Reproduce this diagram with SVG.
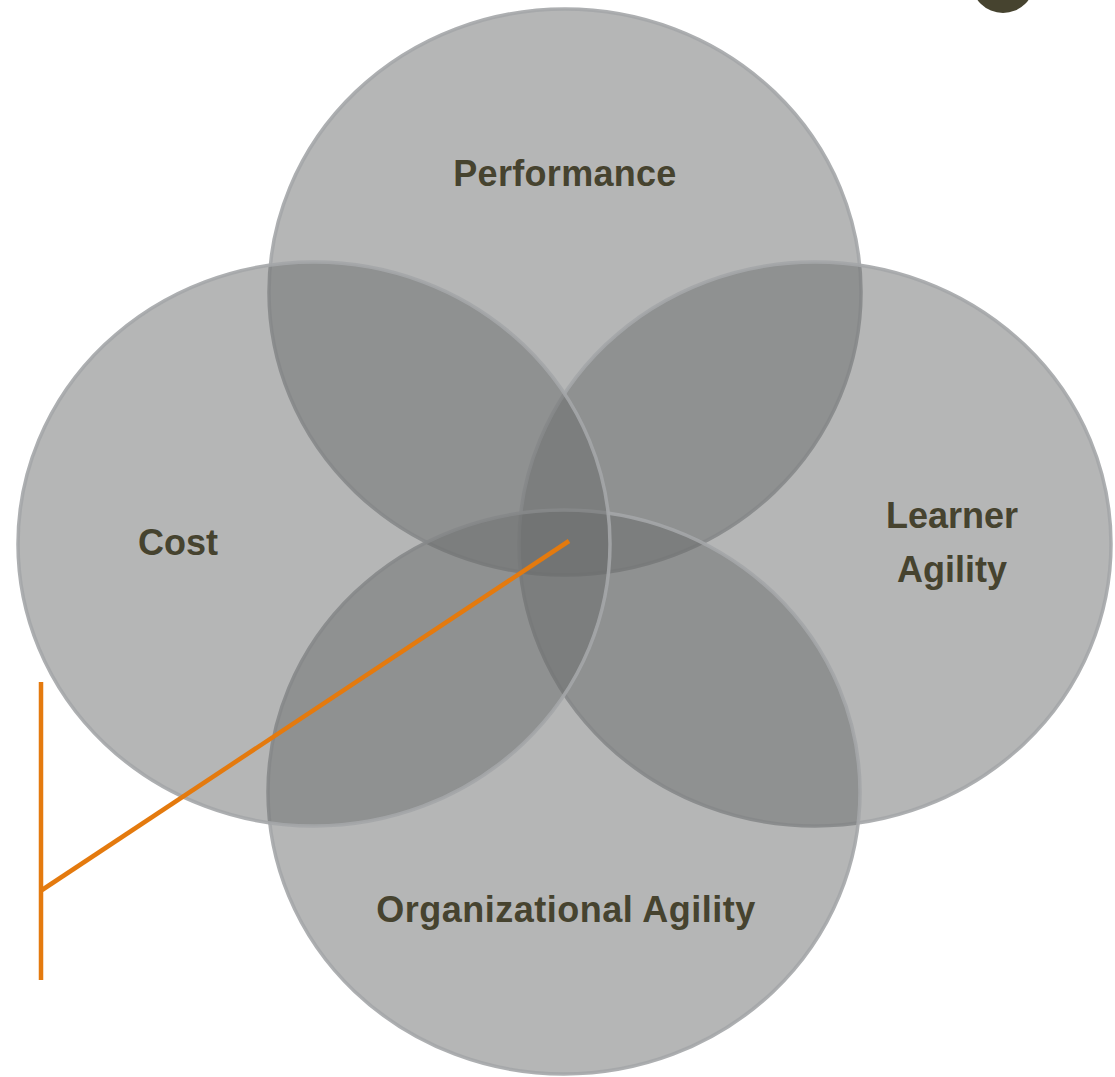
<svg xmlns="http://www.w3.org/2000/svg" width="1115" height="1077" viewBox="0 0 1115 1077">
  <defs>
    <style>
      .set { fill: rgb(104,106,106); fill-opacity: 0.49; stroke: #a4a6a9; stroke-opacity: 0.9; stroke-width: 3.5; }
      .label { font-family: "Liberation Sans", Arial, sans-serif; font-weight: bold; font-size: 36px; fill: #46432f; text-anchor: middle; }
      .callout { fill: none; stroke: #e47a0e; stroke-width: 4.5; }
    </style>
  </defs>
  <rect width="1115" height="1077" fill="#ffffff"/>

  <!-- dark marker partly off the top edge -->
  <circle id="corner-mark" cx="1003" cy="-18.5" r="31.5" fill="#46432f"/>

  <g id="performance">
    <ellipse class="set" cx="565" cy="292" rx="296" ry="283"/>
    <text class="label" x="565" y="186" letter-spacing="0.3">Performance</text>
  </g>
  <g id="learner-agility">
    <ellipse class="set" cx="815" cy="544" rx="296" ry="282"/>
    <text class="label" x="952" y="528">Learner</text>
    <text class="label" x="952" y="582">Agility</text>
  </g>
  <g id="organizational-agility">
    <ellipse class="set" cx="564" cy="792" rx="296" ry="282"/>
    <text class="label" x="566" y="922" letter-spacing="0.5">Organizational Agility</text>
  </g>
  <g id="cost">
    <ellipse class="set" cx="314" cy="544" rx="296" ry="282"/>
    <text class="label" x="178" y="555">Cost</text>
  </g>

  <g id="connectors">
    <line class="callout" x1="41" y1="682" x2="41" y2="980"/>
    <line class="callout" x1="42" y1="890" x2="569" y2="541"/>
  </g>
</svg>
